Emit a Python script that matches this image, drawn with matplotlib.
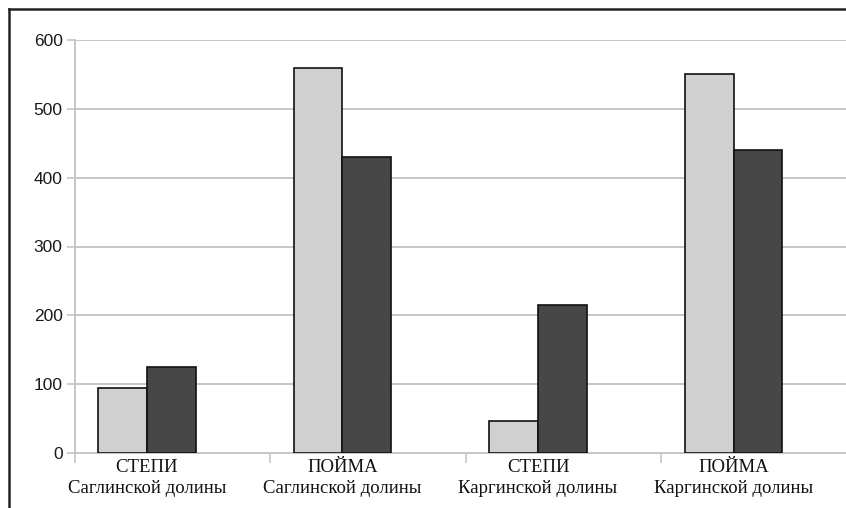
import matplotlib
matplotlib.use("Agg")
import matplotlib.pyplot as plt
from matplotlib.lines import Line2D

# Данные
categories = ["СТЕПИ\nСаглинской долины", "ПОЙМА\nСаглинской долины",
              "СТЕПИ\nКаргинской долины", "ПОЙМА\nКаргинской долины"]
series_light = [95, 560, 47, 550]
series_dark = [125, 430, 215, 440]
y_ticks = [0, 100, 200, 300, 400, 500, 600]

color_light = "#d0d0d0"
color_dark = "#474747"
grid_color = "#c6c6c6"
width = 0.25

W, H = 846, 508
fig = plt.figure(figsize=(W / 100, H / 100), dpi=100)
ax = fig.add_axes([75 / W, 1 - 453 / H, 1 - 75 / W, (453 - 40) / H])

pos = list(range(len(categories)))

# Barras
ax.bar([p - width / 2 for p in pos], series_light, width, color=color_light,
       edgecolor="#111111", linewidth=1.2, zorder=3)
ax.bar([p + width / 2 for p in pos], series_dark, width, color=color_dark,
       edgecolor="#111111", linewidth=1.2, zorder=3)

ax.set_xlim(-0.368, 3.575)
ax.set_ylim(0, 600)

# Rejilla
ax.set_yticks(y_ticks)
ax.yaxis.grid(True, color=grid_color, linewidth=1.4, zorder=0)
ax.set_axisbelow(True)

for s in ["top", "right"]:
    ax.spines[s].set_visible(False)
for s in ["left", "bottom"]:
    ax.spines[s].set_color(grid_color)
    ax.spines[s].set_linewidth(1.4)

ax.tick_params(axis="y", length=6, width=1.2, color=grid_color, pad=3,
               labelsize=12.5)
for lab in ax.get_yticklabels():
    lab.set_fontfamily(["Liberation Sans Narrow", "Liberation Sans"])
    lab.set_color("#1a1a1a")

# Etiquetas de categorias
ax.set_xticks(pos)
ax.set_xticklabels(categories, fontfamily="Liberation Serif", fontsize=13.5,
                   linespacing=1.35, color="#111111")
ax.tick_params(axis="x", which="major", length=0, pad=4)
ax.set_xticks([-0.368, 0.63, 1.63, 2.63], minor=True)
ax.tick_params(axis="x", which="minor", length=7, width=1.2, color=grid_color)

# Marco de la figura
fig.add_artist(Line2D([9 / W, 9 / W], [0, 1 - 9 / H], color="#222222",
                      linewidth=1.8, transform=fig.transFigure))
fig.add_artist(Line2D([9 / W, 1], [1 - 9 / H, 1 - 9 / H], color="#222222",
                      linewidth=1.8, transform=fig.transFigure))

fig.savefig("out.png", dpi=100)
